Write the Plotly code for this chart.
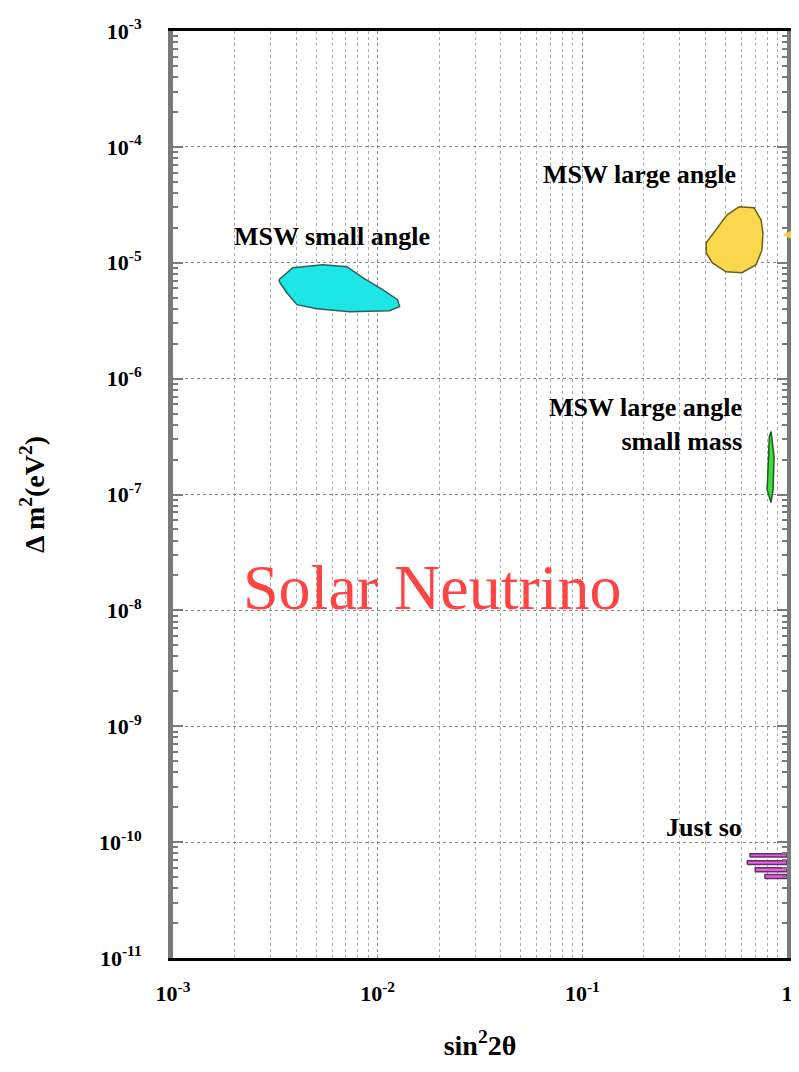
import plotly.graph_objects as go
import numpy as np

# ---- data ----
small_angle_x = [3.29e-3, 3.85e-3, 5.40e-3, 7.07e-3, 8.45e-3, 1.057e-2, 1.25e-2, 1.28e-2,
                 1.14e-2, 7.30e-3, 5.04e-3, 4.03e-3, 3.60e-3, 3.33e-3]
small_angle_y = [7.13e-6, 9.06e-6, 9.61e-6, 9.24e-6, 7.43e-6, 5.85e-6, 4.80e-6, 4.18e-6,
                 3.86e-6, 3.78e-6, 4.01e-6, 4.35e-6, 5.51e-6, 6.73e-6]

large_angle_x = [0.583, 0.690, 0.747, 0.763, 0.755, 0.706, 0.603, 0.504, 0.431, 0.403,
                 0.403, 0.450, 0.510]
large_angle_y = [3.04e-5, 2.98e-5, 2.35e-5, 1.81e-5, 1.29e-5, 9.61e-6, 8.20e-6, 8.36e-6,
                 1.0e-5, 1.22e-5, 1.49e-5, 1.92e-5, 2.59e-5]

lasm_x = [0.836, 0.865, 0.855, 0.836, 0.80, 0.81, 0.82]
lasm_y = [3.49e-7, 2.13e-7, 1.10e-7, 8.53e-8, 1.10e-7, 2.13e-7, 3.16e-7]

# "Just so" streaks: start x, end x, lower and upper dm2
justso_x0 = [0.66, 0.64, 0.70, 0.78]
justso_x1 = [1.0, 1.0, 1.0, 1.0]
justso_lo = [7.45e-11, 6.40e-11, 5.55e-11, 4.85e-11]
justso_hi = [7.95e-11, 6.90e-11, 6.00e-11, 5.25e-11]

arrow_y = [1.81e-5]

x_ticks = [1e-3, 1e-2, 1e-1, 1]
x_ticktext = ["<b>10<sup>-3</sup></b>", "<b>10<sup>-2</sup></b>", "<b>10<sup>-1</sup></b>", "<b>1</b>"]
y_ticks = [10.0 ** e for e in range(-11, -2)]
y_ticktext = ["<b>10<sup>%d</sup></b>" % e for e in range(-11, -2)]

labels = [
    dict(text="MSW small angle", x=6.0e-3, y=1.67e-5, xanchor="center"),
    dict(text="MSW large angle", x=0.19, y=5.74e-5, xanchor="center"),
    dict(text="MSW large angle<br>small mass", x=0.62, y=4.0e-7, xanchor="right"),
    dict(text="Just so", x=0.62, y=1.35e-10, xanchor="right"),
]

serif = "Liberation Serif, Times New Roman, serif"

fig = go.Figure()

def region(xs, ys, fill, line):
    fig.add_trace(go.Scatter(x=xs + xs[:1], y=ys + ys[:1], mode="lines", fill="toself",
                             fillcolor=fill, line=dict(color=line, width=1.5),
                             hoverinfo="skip", showlegend=False))

region(small_angle_x, small_angle_y, "#1ee6e6", "#2b5f5f")
region(large_angle_x, large_angle_y, "#f9d84e", "#6e5e1e")
region(lasm_x, lasm_y, "#3fdc3f", "#1f5a1f")
for x0, x1, lo, hi in zip(justso_x0, justso_x1, justso_lo, justso_hi):
    region([x0, x1, x1, x0], [lo, lo, hi, hi], "#d866d8", "#6a2a6a")

minor_x = [m * 10.0 ** e for e in range(-3, 0) for m in range(2, 10)]
minor_y = [m * 10.0 ** e for e in range(-11, -3) for m in range(2, 10)]

fig.update_xaxes(type="log", range=[-3, 0.0001], tickvals=x_ticks, ticktext=x_ticktext,
                 tickfont=dict(family=serif, size=22, color="black"),
                 showline=True, linecolor="black", linewidth=3, mirror=True,
                 showgrid=True, gridcolor="#888888", griddash="dot", gridwidth=1.2,
                 ticks="", ticklen=0, ticklabelstandoff=14, automargin=False,
                 minor=dict(tickvals=minor_x, showgrid=True, gridcolor="#aaaaaa",
                            griddash="dot", gridwidth=1, ticks=""),
                 title=dict(text="<b>sin<sup>2</sup>2θ</b>",
                            font=dict(family=serif, size=28, color="black"), standoff=30),
                 zeroline=False)
fig.update_yaxes(type="log", range=[-11, -3], tickvals=y_ticks, ticktext=y_ticktext,
                 tickfont=dict(family=serif, size=22, color="black"),
                 showline=True, linecolor="#7a7a7a", linewidth=5, mirror="ticks",
                 showgrid=True, gridcolor="#888888", griddash="dot", gridwidth=1.2,
                 ticks="inside", ticklen=10, tickcolor="#7a7a7a", tickwidth=2,
                 minor=dict(tickvals=minor_y, showgrid=False, ticks="inside",
                            ticklen=5, tickcolor="#7a7a7a", tickwidth=1.5),
                 title=dict(text="<b>Δ m<sup>2</sup>(eV<sup>2</sup>)</b>",
                            font=dict(family=serif, size=28, color="black"), standoff=48),
                 ticklabelstandoff=22, automargin=False,
                 zeroline=False)

for lab in labels:
    fig.add_annotation(x=np.log10(lab["x"]), y=np.log10(lab["y"]), xref="x", yref="y",
                       text="<b>" + lab["text"] + "</b>", showarrow=False,
                       xanchor=lab["xanchor"], yanchor="middle", align="right",
                       font=dict(family=serif, size=26, color="black"))

# small yellow pointer just outside the right edge of the frame
fig.add_annotation(x=0.992, y=np.log10(arrow_y[0]), xref="paper", yref="y",
                   text="◀", showarrow=False, xanchor="left", yanchor="middle",
                   borderpad=0, font=dict(family="DejaVu Sans", size=24, color="#f6cf3e"))

fig.add_annotation(x=0.423, y=-7.80, xref="paper", yref="y", text="Solar Neutrino",
                   showarrow=False, xanchor="center", yanchor="middle",
                   font=dict(family=serif, size=64, color="#ff4444"))

# the page body has an 8px margin, so the figure is placed at (8, 8)
fig.update_layout(width=791, height=1064, margin=dict(l=165, r=12, t=23, b=114),
                  paper_bgcolor="white", plot_bgcolor="white", showlegend=False)

fig.write_html("out.html")
